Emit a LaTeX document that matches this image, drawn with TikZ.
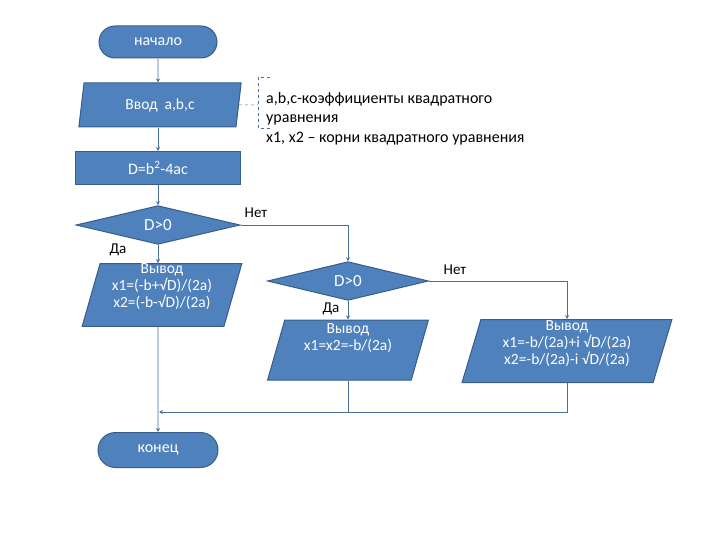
\documentclass[tikz,border=0pt]{standalone}
\usepackage{fontspec}
\setmainfont{Carlito}
\usetikzlibrary{arrows.meta, positioning, shapes.geometric, shapes.misc}
\definecolor{boxfill}{HTML}{4F81BD}
\definecolor{boxline}{HTML}{385D8A}
\definecolor{wire}{HTML}{4A6F9C}

\begin{document}
\begin{tikzpicture}[x=1pt, y=-1pt, >={Stealth[length=4pt, width=4pt]},
    every node/.style={font=\fontsize{15}{18}\selectfont},
    blk/.style={draw=boxline, line width=1pt, fill=boxfill, text=white, inner sep=0pt, align=center,
                font=\fontsize{16}{18}\selectfont},
    term/.style={blk, rounded rectangle},
    proc/.style={blk, rectangle},
    dec/.style={blk, diamond, font=\fontsize{17}{18}\selectfont},
    io/.style={blk, trapezium, trapezium left angle=77, trapezium right angle=103, trapezium stretches=true,
               font=\fontsize{15.5}{17}\selectfont},
    wire/.style={draw=wire, line width=0.8pt}]
    \useasboundingbox (0,0) rectangle (720,540);
    % blocks of the scheme
    \node[term, minimum width=118, minimum height=32] (start) at (158,42) {начало};
    \node[io, trapezium left angle=80, trapezium right angle=100, minimum width=163, minimum height=44]
        (in) at (160,105) {Ввод\ \ a,b,c};
    \node[proc, minimum width=165, minimum height=33] (calc) at (158,168) {D=b\textsuperscript{2}-4ac};
    \node[dec, minimum width=164, minimum height=36] (dec1) at (158,225) {D>0};
    \node[io, minimum width=160, minimum height=60] (out1) at (162,295)
        {Вывод\\x1=(-b+√D)/(2a)\\x2=(-b-√D)/(2a)\\[2pt]};
    \node[dec, minimum width=161, minimum height=36] (dec2) at (348,281) {D>0};
    \node[io, minimum width=161, minimum height=60] (out2) at (348,350)
        {Вывод\\x1=x2=-b/(2a)\\[8pt]};
    \node[io, minimum width=210, minimum height=63] (out3) at (567,351)
        {Вывод\\x1=-b/(2a)+i √D/(2a)\\x2=-b/(2a)-i √D/(2a)\\[0pt]};
    \node[term, minimum width=120, minimum height=35] (stop) at (158,450) {конец};
    % comment to the input
    \coordinate (cm) at (258,105);
    \coordinate (ctop) at (258,77);
    \coordinate (cbot) at (258,128);
    \node[anchor=north west, align=left, inner sep=0pt, font=\fontsize{16}{19.5}\selectfont] (note) at (266,92)
        {a,b,c-коэффициенты квадратного\\уравнения\\x1, x2 – корни квадратного уравнения};
    \draw[wire, dashed, line width=0.5pt] (in.east) -- (cm);
    \draw[wire, dashed, line width=0.5pt] ([xshift=12]ctop) -- (ctop) -- (cbot) -- ([xshift=12]cbot);
    % branch labels
    \node (no1) at (256,213) {Нет};
    \node (yes1) at (118,250) {Да};
    \node (no2) at (455,270) {Нет};
    \node (yes2) at (331,309) {Да};
    % connectors
    \draw[wire, ->] (start) -- (start |- in.north);
    \draw[wire, ->] (start |- in.south) -- (calc);
    \draw[wire, ->] (calc) -- (dec1);
    \draw[wire, ->] (dec1) -- (dec1 |- out1.north);
    \draw[wire, ->] (dec1.east) -| (dec2.north);
    \draw[wire, ->] (dec2) -- (out2);
    \draw[wire, ->] (dec2.east) -| (out3.north);
    \coordinate (join) at (159,412);
    \draw[wire] (out2) -- (out2 |- join);
    \draw[wire, ->] (out3.south) |- (join);
    \draw[wire, ->] (dec1 |- out1.south) -- (stop);
\end{tikzpicture}
\end{document}
